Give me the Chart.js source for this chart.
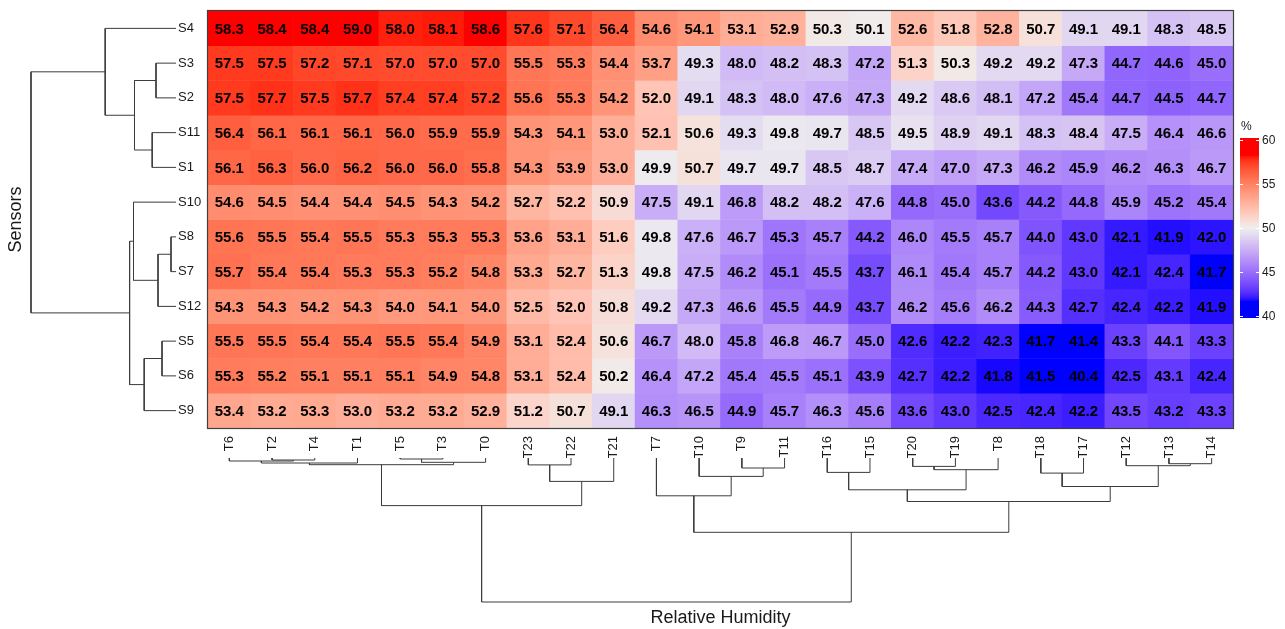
<!DOCTYPE html>
<html>
<head>
<meta charset="utf-8">
<title>Relative Humidity by Sensor</title>
<script src="https://cdn.jsdelivr.net/npm/chart.js@4.4.1/dist/chart.umd.min.js"></script>
<style>
  html, body { margin: 0; padding: 0; background: #ffffff; }
  #wrap { position: relative; width: 1285px; height: 629px; overflow: hidden; }
  #wrap canvas { position: absolute; }
</style>
</head>
<body>
<div id="wrap">
  <canvas id="heat" width="1285" height="629" style="left:0;top:0"></canvas>
  <canvas id="rowTree" width="178" height="629" style="left:0;top:0"></canvas>
  <canvas id="colTree" width="1285" height="189" style="left:0;top:440px"></canvas>
</div>
<script>
// Row and column order follow the clustering.
const sensors = ['S4', 'S3', 'S2', 'S11', 'S1', 'S10', 'S8', 'S7', 'S12', 'S5', 'S6', 'S9'];
const timepoints = ['T6', 'T2', 'T4', 'T1', 'T5', 'T3', 'T0', 'T23', 'T22', 'T21', 'T7', 'T10',
                    'T9', 'T11', 'T16', 'T15', 'T20', 'T19', 'T8', 'T18', 'T17', 'T12', 'T13', 'T14'];

// Relative humidity (%) per sensor, one value per time point
const s4  = [58.3, 58.4, 58.4, 59.0, 58.0, 58.1, 58.6, 57.6, 57.1, 56.4, 54.6, 54.1, 53.1, 52.9, 50.3, 50.1, 52.6, 51.8, 52.8, 50.7, 49.1, 49.1, 48.3, 48.5];
const s3  = [57.5, 57.5, 57.2, 57.1, 57.0, 57.0, 57.0, 55.5, 55.3, 54.4, 53.7, 49.3, 48.0, 48.2, 48.3, 47.2, 51.3, 50.3, 49.2, 49.2, 47.3, 44.7, 44.6, 45.0];
const s2  = [57.5, 57.7, 57.5, 57.7, 57.4, 57.4, 57.2, 55.6, 55.3, 54.2, 52.0, 49.1, 48.3, 48.0, 47.6, 47.3, 49.2, 48.6, 48.1, 47.2, 45.4, 44.7, 44.5, 44.7];
const s11 = [56.4, 56.1, 56.1, 56.1, 56.0, 55.9, 55.9, 54.3, 54.1, 53.0, 52.1, 50.6, 49.3, 49.8, 49.7, 48.5, 49.5, 48.9, 49.1, 48.3, 48.4, 47.5, 46.4, 46.6];
const s1  = [56.1, 56.3, 56.0, 56.2, 56.0, 56.0, 55.8, 54.3, 53.9, 53.0, 49.9, 50.7, 49.7, 49.7, 48.5, 48.7, 47.4, 47.0, 47.3, 46.2, 45.9, 46.2, 46.3, 46.7];
const s10 = [54.6, 54.5, 54.4, 54.4, 54.5, 54.3, 54.2, 52.7, 52.2, 50.9, 47.5, 49.1, 46.8, 48.2, 48.2, 47.6, 44.8, 45.0, 43.6, 44.2, 44.8, 45.9, 45.2, 45.4];
const s8  = [55.6, 55.5, 55.4, 55.5, 55.3, 55.3, 55.3, 53.6, 53.1, 51.6, 49.8, 47.6, 46.7, 45.3, 45.7, 44.2, 46.0, 45.5, 45.7, 44.0, 43.0, 42.1, 41.9, 42.0];
const s7  = [55.7, 55.4, 55.4, 55.3, 55.3, 55.2, 54.8, 53.3, 52.7, 51.3, 49.8, 47.5, 46.2, 45.1, 45.5, 43.7, 46.1, 45.4, 45.7, 44.2, 43.0, 42.1, 42.4, 41.7];
const s12 = [54.3, 54.3, 54.2, 54.3, 54.0, 54.1, 54.0, 52.5, 52.0, 50.8, 49.2, 47.3, 46.6, 45.5, 44.9, 43.7, 46.2, 45.6, 46.2, 44.3, 42.7, 42.4, 42.2, 41.9];
const s5  = [55.5, 55.5, 55.4, 55.4, 55.5, 55.4, 54.9, 53.1, 52.4, 50.6, 46.7, 48.0, 45.8, 46.8, 46.7, 45.0, 42.6, 42.2, 42.3, 41.7, 41.4, 43.3, 44.1, 43.3];
const s6  = [55.3, 55.2, 55.1, 55.1, 55.1, 54.9, 54.8, 53.1, 52.4, 50.2, 46.4, 47.2, 45.4, 45.5, 45.1, 43.9, 42.7, 42.2, 41.8, 41.5, 40.4, 42.5, 43.1, 42.4];
const s9  = [53.4, 53.2, 53.3, 53.0, 53.2, 53.2, 52.9, 51.2, 50.7, 49.1, 46.3, 46.5, 44.9, 45.7, 46.3, 45.6, 43.6, 43.0, 42.5, 42.4, 42.2, 43.5, 43.2, 43.3];
const humidity = [s4, s3, s2, s11, s1, s10, s8, s7, s12, s5, s6, s9];

// Colour key ticks (%)
const legendTicks = [40, 45, 50, 55, 60];

// Sensor clustering (hclust style: negative = leaf position + 1, positive = earlier merge)
const rowMergeA = [-7, -10, 1, -2, -4, 2, 4, -6, 8, -1, 10];
const rowMergeB = [-8, -11, -9, -3, -5, -12, 5, 3, 6, 7, 9];
const rowMergeH = [5.0, 14.0, 18.0, 20.0, 23.8, 31.8, 41.5, 42.5, 46.4, 70.8, 145];

// Time point clustering
const colMergeA = [-5, -2, -1, 1, 3, -23, 5, -8, -22, -17, -13, 10, -15, -20, -12, 8, 14, 13, -11, 18, 7, 19, 21];
const colMergeB = [-6, -3, 2, -7, -4, -24, 4, -9, 6, -18, -14, -19, -16, -21, 11, -10, 9, 12, 15, 17, 16, 20, 22];
const colMergeH = [1.0, 2.0, 3.0, 4.3, 5.0, 5.7, 6.7, 6.9, 7.7, 8.4, 10.0, 11.7, 14.4, 15.1, 18.4, 23.4, 28.5, 31.8, 37.8, 43.5, 47.6, 74.3, 144];

const FONT = '"Liberation Sans", Arial, Helvetica, sans-serif';
const LABEL_COLOR = '#1a1a1a';
const TREE_COLOR = '#3c3c3c';

// ---- blue / grey / red ramp interpolated in CIE Lab ----
const rampStops = [
  [41.7, [0, 0, 255]],
  [50, [238, 238, 238]],
  [58.3, [255, 0, 0]]
];
const WHITE = [0.95047, 1.0, 1.08883];
function toLinear(c) { c /= 255; return c <= 0.04045 ? c / 12.92 : Math.pow((c + 0.055) / 1.055, 2.4); }
function fromLinear(c) { const v = c <= 0.0031308 ? 12.92 * c : 1.055 * Math.pow(c, 1 / 2.4) - 0.055; return Math.round(Math.min(1, Math.max(0, v)) * 255); }
function rgbToLab(rgb) {
  const [r, g, b] = rgb.map(toLinear);
  const xyz = [
    0.4124564 * r + 0.3575761 * g + 0.1804375 * b,
    0.2126729 * r + 0.7151522 * g + 0.0721750 * b,
    0.0193339 * r + 0.1191920 * g + 0.9503041 * b
  ];
  const f = xyz.map((t, i) => { t /= WHITE[i]; return t > 0.008856 ? Math.cbrt(t) : 7.787 * t + 16 / 116; });
  return [116 * f[1] - 16, 500 * (f[0] - f[1]), 200 * (f[1] - f[2])];
}
function labToRgb([L, A, B]) {
  const fy = (L + 16) / 116, fx = fy + A / 500, fz = fy - B / 200;
  const inv = t => (t * t * t > 0.008856 ? t * t * t : (t - 16 / 116) / 7.787);
  const X = inv(fx) * WHITE[0], Y = inv(fy) * WHITE[1], Z = inv(fz) * WHITE[2];
  const r = 3.2404542 * X - 1.5371385 * Y - 0.4985314 * Z;
  const g = -0.9692660 * X + 1.8760108 * Y + 0.0415560 * Z;
  const b = 0.0556434 * X - 0.2040259 * Y + 1.0572252 * Z;
  return [fromLinear(r), fromLinear(g), fromLinear(b)];
}
const labStops = rampStops.map(([v, c]) => [v, rgbToLab(c)]);
function heatColor(v) {
  const lo = labStops[0][0], hi = labStops[labStops.length - 1][0];
  v = Math.min(hi, Math.max(lo, v));
  let i = 0;
  while (i < labStops.length - 2 && v > labStops[i + 1][0]) i++;
  const [v0, c0] = labStops[i], [v1, c1] = labStops[i + 1];
  const t = (v - v0) / (v1 - v0);
  const rgb = labToRgb(c0.map((c, k) => c + (c1[k] - c) * t));
  return `rgb(${rgb[0]},${rgb[1]},${rgb[2]})`;
}

// ---- dendrogram segments from merge arrays ----
function treeSegments(A, B, H) {
  const pos = [], ht = [];
  const nodePos = id => (id < 0 ? -id - 1 : pos[id - 1]);
  const nodeH = id => (id < 0 ? 0 : ht[id - 1]);
  return A.map((a, i) => {
    const b = B[i];
    const pa = nodePos(a), pb = nodePos(b);
    const seg = [[pa, nodeH(a)], [pa, H[i]], [pb, H[i]], [pb, nodeH(b)]];
    pos.push((pa + pb) / 2);
    ht.push(H[i]);
    return seg;
  });
}
function treeDataset(points) {
  return {
    data: points,
    showLine: true,
    borderColor: TREE_COLOR,
    borderWidth: 1,
    pointRadius: 0,
    tension: 0,
    fill: false,
    clip: false
  };
}

// ---- heatmap ----
const cellText = {
  id: 'cellText',
  afterDatasetsDraw(chart) {
    const { ctx, scales: { x, y } } = chart;
    ctx.save();
    ctx.font = `bold 15px ${FONT}`;
    ctx.fillStyle = '#000000';
    ctx.textAlign = 'center';
    ctx.textBaseline = 'middle';
    humidity.forEach((row, r) => {
      row.forEach((v, c) => {
        ctx.fillText(v.toFixed(1), x.getPixelForValue(c), y.getPixelForValue(r) + 1);
      });
    });
    ctx.restore();
  }
};

const frameAndKey = {
  id: 'frameAndKey',
  afterDraw(chart) {
    const { ctx, chartArea: a } = chart;
    ctx.save();
    ctx.strokeStyle = '#404040';
    ctx.lineWidth = 1.2;
    ctx.strokeRect(a.left - 0.5, a.top - 0.5, a.right - a.left + 1, a.bottom - a.top + 1);

    // colour key
    const kx = 1240, kw = 19, top = 138, bottom = 318;
    const t0 = 140.3, t1 = 316.3;
    const lo = legendTicks[0], hi = legendTicks[legendTicks.length - 1];
    const yOf = v => t1 - (v - lo) / (hi - lo) * (t1 - t0);
    for (let py = top; py < bottom; py++) {
      const v = lo + (t1 - (py + 0.5)) / (t1 - t0) * (hi - lo);
      ctx.fillStyle = heatColor(v);
      ctx.fillRect(kx, py, kw, 1);
    }
    ctx.strokeStyle = '#ffffff';
    ctx.lineWidth = 1;
    ctx.font = `12px ${FONT}`;
    ctx.fillStyle = LABEL_COLOR;
    ctx.textAlign = 'left';
    ctx.textBaseline = 'middle';
    legendTicks.forEach(v => {
      const py = Math.round(yOf(v)) + 0.5;
      ctx.beginPath();
      ctx.moveTo(kx, py); ctx.lineTo(kx + 3, py);
      ctx.moveTo(kx + kw - 3, py); ctx.lineTo(kx + kw, py);
      ctx.stroke();
      ctx.fillText(String(v), kx + kw + 3, yOf(v));
    });
    ctx.fillText('%', kx + 1, 127);
    ctx.restore();
  }
};

new Chart(document.getElementById('heat'), {
  type: 'bar',
  data: {
    labels: timepoints,
    datasets: humidity.map((row, r) => ({
      label: sensors[r],
      data: row.map(() => [r - 0.5, r + 0.5]),
      backgroundColor: row.map(heatColor),
      borderWidth: 0,
      grouped: false,
      barPercentage: 1,
      categoryPercentage: 1
    }))
  },
  options: {
    responsive: false,
    animation: false,
    layout: { padding: { left: 178, right: 52, top: 11, bottom: 171 } },
    plugins: { legend: { display: false }, tooltip: { enabled: false } },
    scales: {
      x: {
        position: 'bottom',
        grid: { display: false, drawTicks: false },
        border: { display: false },
        ticks: {
          autoSkip: false, minRotation: 90, maxRotation: 90, padding: 8,
          color: LABEL_COLOR, font: { family: FONT, size: 13 }
        },
        afterFit: s => { s.height = 30; }
      },
      y: {
        type: 'linear',
        position: 'left',
        min: -0.5, max: 11.5,
        reverse: true,
        grid: { display: false, drawTicks: false },
        border: { display: false },
        afterBuildTicks: s => { s.ticks = sensors.map((_, i) => ({ value: i })); },
        ticks: {
          crossAlign: 'far', padding: 0,
          color: LABEL_COLOR, font: { family: FONT, size: 13 },
          callback: v => sensors[v]
        },
        afterFit: s => { s.width = 30; }
      }
    }
  },
  plugins: [cellText, frameAndKey]
});

// ---- sensor dendrogram ----
new Chart(document.getElementById('rowTree'), {
  type: 'scatter',
  data: {
    datasets: treeSegments(rowMergeA, rowMergeB, rowMergeH)
      .map(seg => treeDataset(seg.map(([p, h]) => ({ x: h, y: p }))))
  },
  options: {
    responsive: false,
    animation: false,
    layout: { padding: { left: 0, right: 2, top: 11, bottom: 201 } },
    plugins: { legend: { display: false }, tooltip: { enabled: false } },
    scales: {
      x: { type: 'linear', min: 0, max: rowMergeH[rowMergeH.length - 1], reverse: true, display: false },
      y: {
        type: 'linear', position: 'left', min: -0.5, max: 11.5, reverse: true,
        grid: { display: false }, border: { display: false },
        ticks: { display: false },
        title: { display: true, text: 'Sensors', color: LABEL_COLOR, font: { family: FONT, size: 18 }, padding: { top: 5, bottom: 0 } },
        afterFit: s => { s.width = 31; }
      }
    }
  }
});

// ---- time point dendrogram ----
new Chart(document.getElementById('colTree'), {
  type: 'scatter',
  data: {
    datasets: treeSegments(colMergeA, colMergeB, colMergeH)
      .map(seg => treeDataset(seg.map(([p, h]) => ({ x: p, y: h }))))
  },
  options: {
    responsive: false,
    animation: false,
    layout: { padding: { left: 208, right: 52, top: 18, bottom: 0 } },
    plugins: { legend: { display: false }, tooltip: { enabled: false } },
    scales: {
      x: {
        type: 'linear', position: 'bottom', min: -0.5, max: 23.5,
        grid: { display: false }, border: { display: false },
        ticks: { display: false },
        title: { display: true, text: 'Relative Humidity', color: LABEL_COLOR, font: { family: FONT, size: 18 }, padding: { top: 0, bottom: 0 } },
        afterFit: s => { s.height = 27; }
      },
      y: { type: 'linear', min: 0, max: colMergeH[colMergeH.length - 1], reverse: true, display: false }
    }
  }
});
</script>
</body>
</html>
